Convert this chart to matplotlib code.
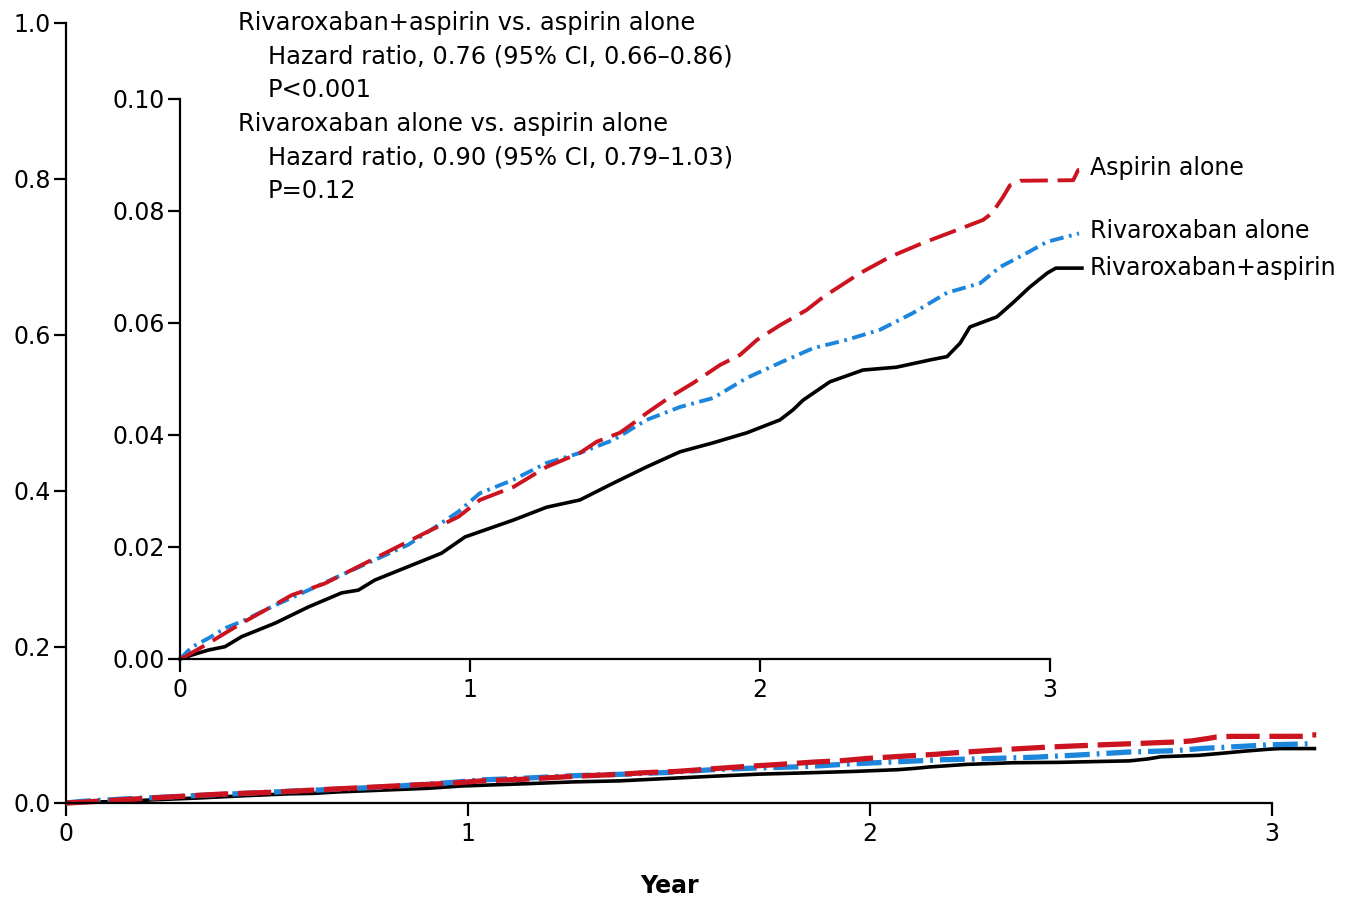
import matplotlib
matplotlib.use("Agg")
import matplotlib.pyplot as plt

plt.rcParams['font.family'] = ['DejaVu Sans']
plt.rcParams['lines.scale_dashes'] = False

# ---- data ----
t_asp = [0, 0.017, 0.098, 0.155, 0.213, 0.293, 0.385, 0.5, 0.615, 0.73, 0.845, 0.96,
         1.034, 1.149, 1.264, 1.379, 1.437, 1.517, 1.563, 1.609, 1.69, 1.77, 1.862,
         1.931, 1.99, 2.069, 2.16, 2.217, 2.345, 2.448, 2.562, 2.679, 2.769, 2.80,
         2.838, 2.862, 2.897, 3.08, 3.097, 3.11]
v_asp = [0, 0.0004, 0.0028, 0.0046, 0.0064, 0.0087, 0.0114, 0.0135, 0.0165, 0.0195,
         0.0225, 0.0254, 0.0284, 0.0307, 0.0343, 0.0368, 0.0388, 0.0404, 0.0421,
         0.0439, 0.0468, 0.0493, 0.0525, 0.0543, 0.057, 0.0596, 0.0623, 0.0646,
         0.0689, 0.0718, 0.0743, 0.0766, 0.0784, 0.0796, 0.0825, 0.0846, 0.0854,
         0.0855, 0.0873, 0.0873]

t_riv = [0, 0.04, 0.098, 0.155, 0.213, 0.328, 0.443, 0.557, 0.672, 0.787, 0.902, 0.96,
         1.034, 1.149, 1.264, 1.379, 1.494, 1.609, 1.724, 1.838, 1.955, 2.069, 2.183,
         2.30, 2.414, 2.528, 2.645, 2.759, 2.828, 2.92, 2.99, 3.10]
v_riv = [0, 0.0021, 0.0037, 0.0055, 0.0067, 0.0096, 0.0123, 0.015, 0.0177, 0.0204,
         0.0243, 0.0263, 0.0296, 0.032, 0.035, 0.0368, 0.0391, 0.0427, 0.045, 0.0466,
         0.0502, 0.0529, 0.0555, 0.057, 0.0588, 0.0618, 0.0654, 0.0671, 0.070,
         0.0725, 0.0745, 0.076]

t_combo = [0, 0.04, 0.098, 0.155, 0.213, 0.328, 0.443, 0.557, 0.615, 0.672, 0.787,
           0.902, 0.983, 1.149, 1.264, 1.379, 1.494, 1.609, 1.724, 1.838, 1.955,
           2.069, 2.114, 2.148, 2.241, 2.355, 2.47, 2.586, 2.645, 2.69, 2.724, 2.817,
           2.872, 2.93, 2.99, 3.02, 3.11]
v_combo = [0, 0.0007, 0.0016, 0.0022, 0.004, 0.0064, 0.0093, 0.0118, 0.0123, 0.0141,
           0.0165, 0.0189, 0.0218, 0.0248, 0.0271, 0.0284, 0.0314, 0.0343, 0.037,
           0.0386, 0.0404, 0.0427, 0.0445, 0.0462, 0.0495, 0.0516, 0.0521, 0.0534,
           0.054, 0.0564, 0.0593, 0.0611, 0.0636, 0.0664, 0.0689, 0.0698, 0.0698]

series_names = ["Aspirin alone", "Rivaroxaban alone", "Rivaroxaban+aspirin"]
main_yticks = [0.0, 0.2, 0.4, 0.6, 0.8, 1.0]
main_yticklabels = ["0.0", "0.2", "0.4", "0.6", "0.8", "1.0"]
inset_yticks = [0.00, 0.02, 0.04, 0.06, 0.08, 0.10]
inset_yticklabels = ["0.00", "0.02", "0.04", "0.06", "0.08", "0.10"]
xticks = [0, 1, 2, 3]
annot_lines = [
    ("Rivaroxaban+aspirin vs. aspirin alone", 0),
    ("Hazard ratio, 0.76 (95% CI, 0.66\u20130.86)", 1),
    ("P<0.001", 1),
    ("Rivaroxaban alone vs. aspirin alone", 0),
    ("Hazard ratio, 0.90 (95% CI, 0.79\u20131.03)", 1),
    ("P=0.12", 1),
]

RED = '#cc1420'
BLUE = '#1b86dc'
BLACK = '#000000'

W, H = 1349, 901
fig = plt.figure(figsize=(W / 100, H / 100), dpi=100)

def fx(px):
    return px / W

def fy(py):
    return 1 - py / H

FS = 17
FS_TXT = 17.4

def style_axes(ax, yticks, ylabels, ybound, xbound):
    for s in ['top', 'right']:
        ax.spines[s].set_visible(False)
    for s in ['left', 'bottom']:
        ax.spines[s].set_linewidth(1.6)
    ax.spines['left'].set_bounds(*ybound)
    ax.spines['bottom'].set_bounds(*xbound)
    ax.set_yticks(yticks)
    ax.set_yticklabels(ylabels)
    ax.set_xticks(xticks)
    ax.set_xticklabels([str(x) for x in xticks])
    ax.tick_params(axis='both', direction='out', length=9, width=1.6,
                   labelsize=FS, pad=2)
    ax.tick_params(axis='x', pad=5)
    ax.patch.set_visible(False)

# ---- main axes ----
xmax = 3.15
ax = fig.add_axes([fx(66), fy(803), fx(66 + xmax * 402) - fx(66), fy(23) - fy(803)])
ax.set_xlim(0, xmax)
ax.set_ylim(0, 1.0)
style_axes(ax, main_yticks, main_yticklabels, (0, 1.0), (0, 3))
ax.plot(t_combo, v_combo, color=BLACK, lw=2.6, solid_capstyle='butt', clip_on=False)
ax.plot(t_riv, v_riv, color=BLUE, lw=3.8, dashes=(18, 5, 2, 5), clip_on=False)
ax.plot(t_asp, v_asp, color=RED, lw=3.8, dashes=(24, 7), clip_on=False)
fig.text(fx(670), fy(886), "Year", fontsize=FS, fontweight='bold',
         ha='center', va='center')

# ---- inset axes ----
ax2 = fig.add_axes([fx(180), fy(659), fx(180 + xmax * 290) - fx(180), fy(99) - fy(659)])
ax2.set_xlim(0, xmax)
ax2.set_ylim(0, 0.10)
style_axes(ax2, inset_yticks, inset_yticklabels, (0, 0.10), (0, 3))
ax2.plot(t_combo, v_combo, color=BLACK, lw=2.6, clip_on=False)
ax2.plot(t_riv, v_riv, color=BLUE, lw=2.8, dashes=(10, 4, 2, 4), clip_on=False)
ax2.plot(t_asp, v_asp, color=RED, lw=2.8, dashes=(20, 7), clip_on=False)

# series labels
label_rows = [168, 231, 268]
for name, py in zip(series_names, label_rows):
    fig.text(fx(1090), fy(py), name, fontsize=FS, ha='left', va='center')

# annotation block
y0 = 23
for i, (txt, indent) in enumerate(annot_lines):
    fig.text(fx(238 + 30 * indent), fy(y0 + i * 33.5), txt, fontsize=FS_TXT,
             ha='left', va='center')

fig.savefig("out.png", dpi=100)
